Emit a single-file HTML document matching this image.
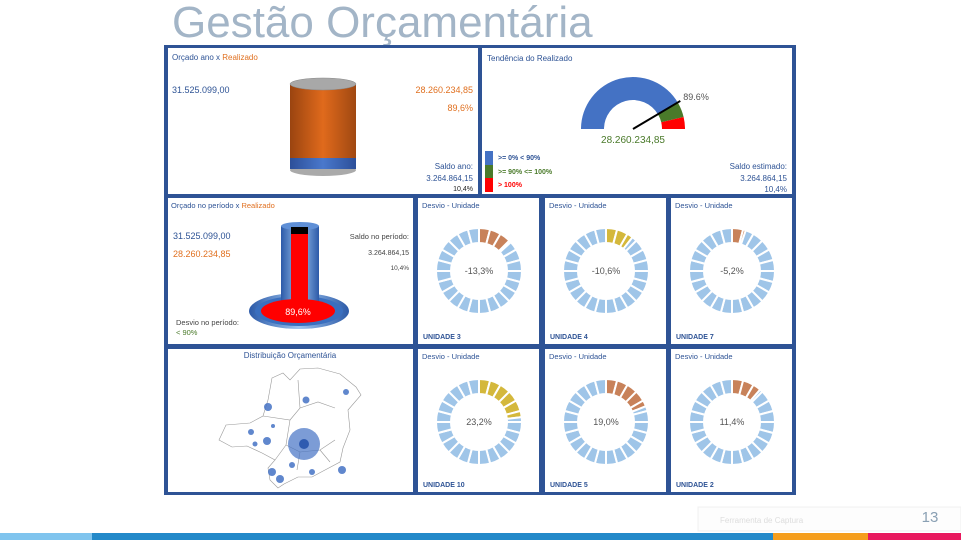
<!DOCTYPE html>
<html><head><meta charset="utf-8">
<style>
body{margin:0;width:961px;height:540px;overflow:hidden;background:#fff;font-family:"Liberation Sans",sans-serif;position:relative}
svg{position:absolute;left:0;top:0}
text{font-family:"Liberation Sans",sans-serif}
</style></head><body>
<svg id="s" width="961" height="540" viewBox="0 0 961 540">
<text x="172" y="37" font-size="44" fill="#a3b5c7">Gestão Orçamentária</text>
<rect x="164" y="45" width="632" height="450" fill="#2e5395"/>
<rect x="168" y="48" width="310" height="146" fill="#fff"/>
<rect x="482" y="48" width="310" height="146" fill="#fff"/>
<rect x="168" y="198" width="245" height="146" fill="#fff"/>
<rect x="168" y="349" width="245" height="143" fill="#fff"/>

<text x="172" y="60" font-size="8" fill="#2e5395">Orçado ano x <tspan fill="#e07020">Realizado</tspan></text>
<text x="172" y="93" font-size="9" fill="#2e5395">31.525.099,00</text>
<text x="473" y="93" font-size="9" fill="#e07020" text-anchor="end">28.260.234,85</text>
<text x="473" y="111" font-size="9" fill="#e07020" text-anchor="end">89,6%</text>
<text x="473" y="169" font-size="8" fill="#2e5395" text-anchor="end">Saldo ano:</text>
<text x="473" y="181" font-size="8" fill="#2e5395" text-anchor="end">3.264.864,15</text>
<text x="473" y="191" font-size="7" fill="#222" text-anchor="end">10,4%</text>
<defs>
<linearGradient id="og" x1="0" x2="1"><stop offset="0" stop-color="#9a4410"/><stop offset=".5" stop-color="#e06a1c"/><stop offset="1" stop-color="#a04812"/></linearGradient>
<linearGradient id="bg" x1="0" x2="1"><stop offset="0" stop-color="#2c4f99"/><stop offset=".5" stop-color="#4a78cc"/><stop offset="1" stop-color="#2c4f99"/></linearGradient>
<linearGradient id="tg" x1="0" x2="1"><stop offset="0" stop-color="#2c5aa8"/><stop offset=".5" stop-color="#9cc3ef"/><stop offset="1" stop-color="#2c5aa8"/></linearGradient>
</defs>
<g>
<ellipse cx="323" cy="170" rx="33" ry="6" fill="#aaa"/>
<rect x="290" y="84" width="66" height="85" fill="url(#bg)"/>
<rect x="290" y="84" width="66" height="74" fill="url(#og)"/>
<ellipse cx="323" cy="84" rx="33" ry="6" fill="#a8a8a8" stroke="#888" stroke-width=".5"/>
</g>

<text x="487" y="61" font-size="8" fill="#2e5395">Tendência do Realizado</text>
<g id="gauge"></g>
<text x="633" y="143" font-size="10" fill="#4a7a2a" text-anchor="middle">28.260.234,85</text>
<rect x="485" y="151" width="8" height="14" fill="#4472c4"/>
<rect x="485" y="165" width="8" height="13" fill="#4a7a2a"/>
<rect x="485" y="178" width="8" height="14" fill="#ff0000"/>
<text x="498" y="160" font-size="7" fill="#2e5395" font-weight="bold">&gt;= 0% &lt; 90%</text>
<text x="498" y="174" font-size="7" fill="#4a7a2a" font-weight="bold">&gt;= 90% &lt;= 100%</text>
<text x="498" y="187" font-size="7" fill="#ff0000" font-weight="bold">&gt; 100%</text>
<text x="787" y="169" font-size="8" fill="#2e5395" text-anchor="end">Saldo estimado:</text>
<text x="787" y="181" font-size="8" fill="#2e5395" text-anchor="end">3.264.864,15</text>
<text x="787" y="192" font-size="8" fill="#2e5395" text-anchor="end">10,4%</text>

<text x="171" y="208" font-size="7.5" fill="#2e5395">Orçado no período x <tspan fill="#e07020">Realizado</tspan></text>
<text x="173" y="239" font-size="9" fill="#2e5395">31.525.099,00</text>
<text x="173" y="257" font-size="9" fill="#e07020">28.260.234,85</text>
<text x="409" y="239" font-size="7.5" fill="#444" text-anchor="end">Saldo no período:</text>
<text x="409" y="255" font-size="7" fill="#444" text-anchor="end">3.264.864,15</text>
<text x="409" y="270" font-size="6.5" fill="#444" text-anchor="end">10,4%</text>
<text x="176" y="325" font-size="7.5" fill="#444">Desvio no período:</text>
<text x="176" y="335" font-size="7.5" fill="#4a7a2a">&lt; 90%</text>
<g>
<ellipse cx="299" cy="311" rx="50" ry="18" fill="url(#tg)"/>
<ellipse cx="299" cy="311" rx="44" ry="15" fill="#3a6fbf"/>
<rect x="281" y="226" width="38" height="80" fill="url(#tg)"/>
<ellipse cx="300" cy="226" rx="19" ry="4" fill="#5f8fd6"/>
<rect x="291" y="227" width="17" height="80" fill="#000"/>
<rect x="291" y="234" width="17" height="75" fill="#ff0000"/>
<ellipse cx="298" cy="311" rx="37" ry="12" fill="#ff0000"/>
<text x="298" y="315" font-size="9" fill="#fff" text-anchor="middle">89,6%</text>
</g>

<text x="290" y="358" font-size="8" fill="#2e5395" text-anchor="middle">Distribuição Orçamentária</text>
<g fill="none" stroke="#999" stroke-width=".6">
<path d="M272,378 L283,373 L290,380 L300,369 L318,368 L340,374 L356,387 L361,395 L348,410 L350,430 L343,448 L340,462 L325,470 L312,477 L298,477 L284,484 L278,488 L270,480 L268,468 L275,460 L262,453 L247,446 L232,447 L219,440 L226,425 L250,423 L263,416 L268,400 Z"/>
<path d="M263,416 L290,420 L300,408 L318,402 L335,408 M290,420 L286,445 L300,452 L320,450 L335,440 M286,445 L275,460 M300,452 L297,470 M320,450 L330,462 M300,408 L298,380"/>
</g>
<g id="bubbles"></g>

<g id="donuts"></g>

<rect x="698" y="507" width="263" height="24" fill="#fdfdfd" stroke="#f0f0f0"/>
<text x="720" y="523" font-size="8" fill="#ddd">Ferramenta de Captura</text>
<text x="930" y="522" font-size="15" fill="#8aa0b4" text-anchor="middle">13</text>
<rect x="0" y="533" width="92" height="7" fill="#7fc4ee"/>
<rect x="92" y="533" width="681" height="7" fill="#2389c9"/>
<rect x="773" y="533" width="95" height="7" fill="#f59d1b"/>
<rect x="868" y="533" width="93" height="7" fill="#e8175d"/>
</svg>
<script>
const unitNames=["UNIDADE 3","UNIDADE 4","UNIDADE 7","UNIDADE 10","UNIDADE 5","UNIDADE 2"];
const unitValues=[-13.3,-10.6,-5.2,23.2,19.0,11.4];
const unitColors=["#c8825a","#d4b83c","#c8825a","#d4b83c","#c8825a","#c8825a"];
const gaugeBands=[90,100,108];
const gaugeColors=["#4472c4","#4a7a2a","#ff0000"];
const gaugeValue=89.6;
const bubbleX=[268,306,346,273,251,255,267,304,292,272,280,312,342];
const bubbleY=[407,400,392,426,432,444,441,444,465,472,479,472,470];
const bubbleSize=[4,3.5,3,2,3,2.5,4,16,3,4,4,3,4];

const NS="http://www.w3.org/2000/svg";
const svg=document.getElementById('s');
function mk(tag,attrs,parent){const e=document.createElementNS(NS,tag);for(const k in attrs)e.setAttribute(k,attrs[k]);(parent||svg).appendChild(e);return e;}
function pt(cx,cy,r,deg){const a=(deg-90)*Math.PI/180;return [cx+r*Math.cos(a),cy+r*Math.sin(a)];}
function arc(cx,cy,r0,r1,a0,a1){const p1=pt(cx,cy,r1,a0),p2=pt(cx,cy,r1,a1),p3=pt(cx,cy,r0,a1),p4=pt(cx,cy,r0,a0);const l=(a1-a0)>180?1:0;
return `M${p1[0]},${p1[1]} A${r1},${r1} 0 ${l} 1 ${p2[0]},${p2[1]} L${p3[0]},${p3[1]} A${r0},${r0} 0 ${l} 0 ${p4[0]},${p4[1]}Z`;}

const gg=document.getElementById('gauge');
const gmax=gaugeBands[gaugeBands.length-1];
function gAng(v){return -90+180*v/gmax;}
let prev=0;
gaugeBands.forEach((b,i)=>{
  const p=mk('path',{d:arc(633,129,29,52,gAng(prev),gAng(b)),fill:gaugeColors[i]},gg);
  
  
  prev=b;
});
const np=pt(633,129,55,gAng(gaugeValue));
const nd=mk('line',{x1:633,y1:129,x2:np[0],y2:np[1],stroke:'#000','stroke-width':2},gg);


const gl=mk('text',{x:np[0]+3,y:np[1]-1,'font-size':9,fill:'#555'},gg);
gl.textContent=gaugeValue.toFixed(1)+'%';



const bb=document.getElementById('bubbles');
bubbleX.forEach((x,i)=>{
  const c=mk('circle',{cx:x,cy:bubbleY[i],r:bubbleSize[i],fill:'#4472c4','fill-opacity':bubbleSize[i]>10?0.7:0.85},bb);
  
  
});
mk('circle',{cx:304,cy:444,r:5,fill:'#2f5bb0'},bb);

const px=[418,545,671];const py=[198,349];
const dg=document.getElementById('donuts');
const R0=28,R1=43;
unitNames.forEach((n,k)=>{
  const x=px[k%3],y=py[Math.floor(k/3)],h=(k<3?146:143);
  const g=mk('g',{},dg);
  
  
  const r=mk('rect',{x:x,y:y,width:121,height:h,fill:'#fff'},g);
  
  
  const t=mk('text',{x:x+4,y:y+10,'font-size':7.5,fill:'#2e5395'},g);t.textContent='Desvio - Unidade';
  
  
  const cx=x+61,cy=y+73;
  const f=Math.abs(unitValues[k])/100*360;
  for(let i=0;i<24;i++){
    const a0=i*15,a1=a0+15;
    const st={stroke:'#fff','stroke-width':2};
    if(a1<=f){mk('path',Object.assign({d:arc(cx,cy,R0,R1,a0,a1),fill:unitColors[k]},st),g);}
    else if(a0<f){mk('path',Object.assign({d:arc(cx,cy,R0,R1,a0,f),fill:unitColors[k]},st),g);
      mk('path',Object.assign({d:arc(cx,cy,R0,R1,f,a1),fill:'#9fc5e8'},st),g);}
    else mk('path',Object.assign({d:arc(cx,cy,R0,R1,a0,a1),fill:'#9fc5e8'},st),g);
  }
  const v=mk('text',{x:cx,y:cy+3,'font-size':9,fill:'#555','text-anchor':'middle'},g);
  v.textContent=unitValues[k].toFixed(1).replace('.',',')+'%';
  
  
  const u=mk('text',{x:x+5,y:y+h-5,'font-size':7,fill:'#2e5395','font-weight':'bold'},g);u.textContent=n;
  
  
});
</script>
</body></html>
